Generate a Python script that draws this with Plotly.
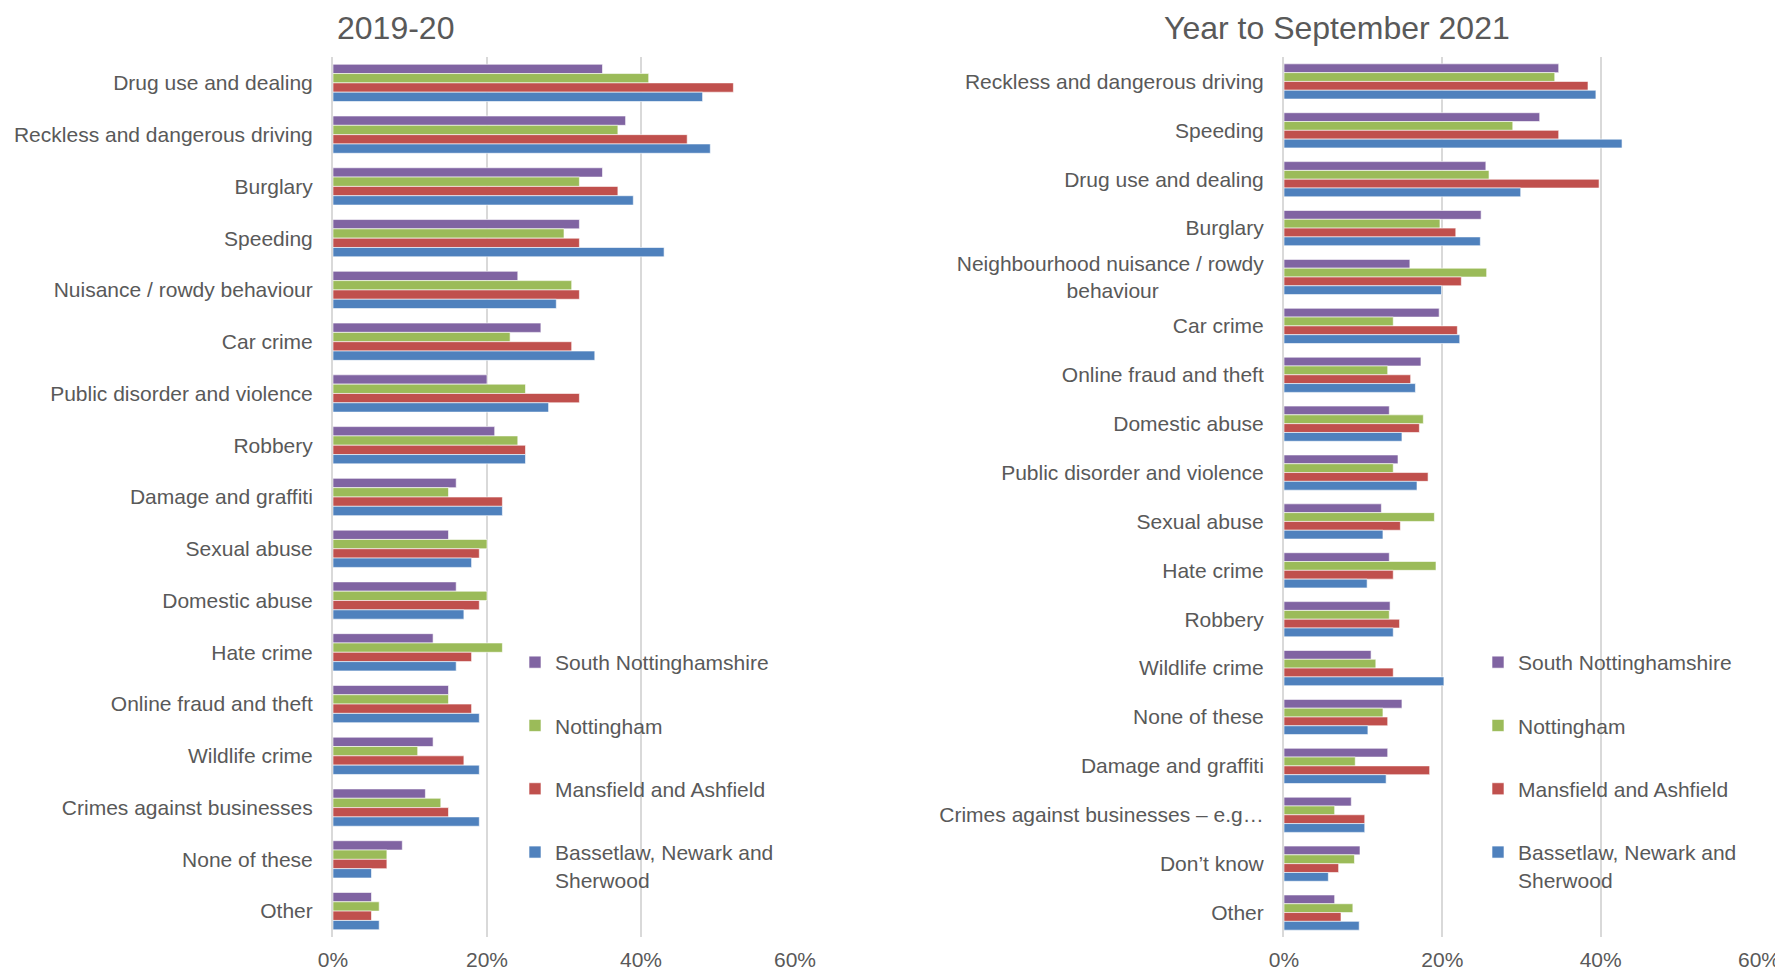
import plotly.graph_objects as go

series_names = ["South Nottinghamshire", "Nottingham", "Mansfield and Ashfield",
                "Bassetlaw, Newark and<br>Sherwood"]
series_colors = ["#8064A2", "#9BBB59", "#C0504D", "#4F81BD"]

cats_2019 = ["Drug use and dealing", "Reckless and dangerous driving", "Burglary", "Speeding",
             "Nuisance / rowdy behaviour", "Car crime", "Public disorder and violence", "Robbery",
             "Damage and graffiti", "Sexual abuse", "Domestic abuse", "Hate crime",
             "Online fraud and theft", "Wildlife crime", "Crimes against businesses",
             "None of these", "Other"]
south_2019 = [35, 38, 35, 32, 24, 27, 20, 21, 16, 15, 16, 13, 15, 13, 12, 9, 5]
nott_2019 = [41, 37, 32, 30, 31, 23, 25, 24, 15, 20, 20, 22, 15, 11, 14, 7, 6]
mans_2019 = [52, 46, 37, 32, 32, 31, 32, 25, 22, 19, 19, 18, 18, 17, 15, 7, 5]
bass_2019 = [48, 49, 39, 43, 29, 34, 28, 25, 22, 18, 17, 16, 19, 19, 19, 5, 6]

cats_2021 = ["Reckless and dangerous driving", "Speeding", "Drug use and dealing", "Burglary",
             "Neighbourhood nuisance / rowdy<br>behaviour" + "\u00a0" * 18,
             "Car crime", "Online fraud and theft", "Domestic abuse", "Public disorder and violence",
             "Sexual abuse", "Hate crime", "Robbery", "Wildlife crime", "None of these",
             "Damage and graffiti", "Crimes against businesses – e.g…", "Don’t know", "Other"]
south_2021 = [34.7, 32.3, 25.5, 24.9, 15.9, 19.6, 17.3, 13.3, 14.4, 12.3, 13.3, 13.4, 11.0, 14.9, 13.1, 8.5, 9.6, 6.4]
nott_2021 = [34.2, 28.9, 25.9, 19.7, 25.6, 13.8, 13.1, 17.6, 13.8, 19.0, 19.2, 13.3, 11.6, 12.5, 9.0, 6.4, 8.9, 8.7]
mans_2021 = [38.4, 34.7, 39.8, 21.7, 22.4, 21.9, 16.0, 17.1, 18.2, 14.7, 13.8, 14.6, 13.8, 13.1, 18.4, 10.2, 6.9, 7.2]
bass_2021 = [39.4, 42.7, 29.9, 24.8, 19.9, 22.2, 16.6, 14.9, 16.8, 12.5, 10.5, 13.8, 20.2, 10.6, 12.9, 10.2, 5.6, 9.5]

x_ticks = [0, 20, 40, 60]
x_ticklabels = ["0%", "20%", "40%", "60%"]

TXT = "#595959"
GRID = "#D9D9D9"
FONT = "Liberation Sans, Arial, sans-serif"

fig = go.Figure()

for i, vals in enumerate([south_2019, nott_2019, mans_2019, bass_2019]):
    fig.add_trace(go.Bar(
        x=vals, y=cats_2019, orientation="h", name=series_names[i],
        marker=dict(color=series_colors[i], line=dict(color="rgba(255,255,255,0.6)", width=1)),
        xaxis="x", yaxis="y", legend="legend", legendgroup="a%d" % i,
    ))
for i, vals in enumerate([south_2021, nott_2021, mans_2021, bass_2021]):
    fig.add_trace(go.Bar(
        x=vals, y=cats_2021, orientation="h", name=series_names[i],
        marker=dict(color=series_colors[i], line=dict(color="rgba(255,255,255,0.6)", width=1)),
        xaxis="x2", yaxis="y2", legend="legend2", legendgroup="b%d" % i,
    ))

# page has an 8px body margin; figure coordinates are page coordinates minus 8
W, H = 1775, 963
y_top, y_bot = 49, 929
ydom = [1 - y_bot / H, 1 - y_top / H]

xaxis_common = dict(
    range=[0, 60], tickvals=x_ticks, ticktext=x_ticklabels,
    showgrid=True, gridcolor=GRID, gridwidth=2, zeroline=False, showline=False,
    ticks="", tickfont=dict(size=21, color=TXT, family=FONT), ticklabelstandoff=8,
    fixedrange=True, automargin=False,
)
yaxis_common = dict(
    autorange="reversed", type="category", showgrid=False, zeroline=False,
    showline=True, linecolor=GRID, linewidth=2, ticks="",
    tickfont=dict(size=21, color=TXT, family=FONT), ticklabelstandoff=14,
    automargin=False,
)

legend_common = dict(
    xanchor="left", yanchor="top", font=dict(size=21, color=TXT, family=FONT),
    tracegroupgap=33, valign="top", bgcolor="rgba(0,0,0,0)", traceorder="grouped",
)

fig.update_layout(
    width=W, height=H, autosize=False,
    margin=dict(l=0, r=0, t=0, b=0, autoexpand=False),
    paper_bgcolor="white", plot_bgcolor="white",
    barmode="group", bargap=0.28, bargroupgap=0,
    font=dict(family=FONT, color=TXT),
    xaxis=dict(domain=[325 / W, 787 / W], anchor="y", **xaxis_common),
    yaxis=dict(domain=ydom, anchor="x", **yaxis_common),
    xaxis2=dict(domain=[1276 / W, 1751 / W], anchor="y2", **xaxis_common),
    yaxis2=dict(domain=ydom, anchor="x2", **yaxis_common),
    legend=dict(x=507 / W, y=1 - 634 / H, **legend_common),
    legend2=dict(x=1470 / W, y=1 - 634 / H, **legend_common),
    annotations=[
        dict(text="2019-20", x=387 / W, y=1, xref="paper", yref="paper",
             xanchor="center", yanchor="top", showarrow=False,
             font=dict(size=32, color=TXT, family=FONT)),
        dict(text="Year to September 2021", x=1329 / W, y=1, xref="paper", yref="paper",
             xanchor="center", yanchor="top", showarrow=False,
             font=dict(size=32, color=TXT, family=FONT)),
    ],
)

fig.write_html("out.html")
